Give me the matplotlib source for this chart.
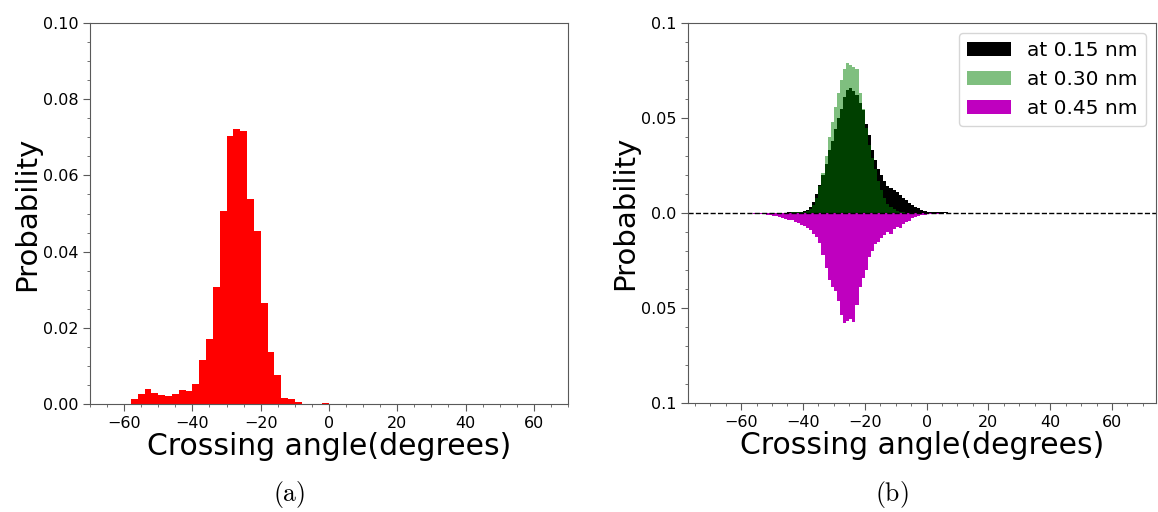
import matplotlib as mpl
import matplotlib.pyplot as plt
import numpy as np
from matplotlib.ticker import MultipleLocator

mpl.rcParams['mathtext.fontset'] = 'cm'

# panel (a): 2-degree bins, left edges
a_edges = np.arange(-60, 0, 2)
a_prob = [0.0, 0.0012, 0.0025, 0.0039, 0.0030, 0.0024, 0.0020, 0.0027,
          0.0037, 0.0034, 0.0052, 0.0115, 0.0170, 0.0308, 0.0507, 0.0704,
          0.0723, 0.0717, 0.0538, 0.0455, 0.0264, 0.0137, 0.0075, 0.0015,
          0.0012, 0.0004, 0.0001, 0.0, 0.0, 0.0003]

# panel (b): 1-degree bins from -60 to 15
b_edges = np.arange(-60, 16, 1)
p015 = [0.0, 0.0, 0.0, 0.0, 0.0, 0.0, 0.0, 0.0, 0.0, 0.0,            # -60..-51
        0.0001, 0.0001, 0.0001, 0.0002, 0.0002, 0.0003, 0.0003, 0.0004,  # -50..-43
        0.0005, 0.0007, 0.0010, 0.0016,                                # -42..-39
        0.003, 0.006, 0.010, 0.015, 0.020, 0.026, 0.033, 0.038,        # -38..-31
        0.044, 0.050, 0.055, 0.061, 0.065, 0.066, 0.064, 0.062,        # -30..-23
        0.058, 0.054, 0.047, 0.041, 0.033, 0.028, 0.023, 0.020,        # -22..-15
        0.017, 0.014, 0.013, 0.012, 0.011, 0.0095, 0.008, 0.0068,      # -14..-7
        0.0055, 0.0042, 0.0032, 0.0024, 0.0016, 0.0011, 0.0008, 0.0007,  # -6..1
        0.0006, 0.0006, 0.0008, 0.0004, 0.0003, 0.0002, 0.0002, 0.0001,  # 2..9
        0.0001, 0.0001, 0.0001, 0.0001, 0.0001]                        # 10..14
p030 = [0.0, 0.0, 0.0, 0.0, 0.0, 0.0, 0.0, 0.0, 0.0, 0.0,            # -60..-51
        0.0001, 0.0001, 0.0001, 0.0001, 0.0002, 0.0002, 0.0003, 0.0003,  # -50..-43
        0.0004, 0.0004, 0.0005, 0.0010,                                # -42..-39
        0.002, 0.004, 0.008, 0.014, 0.021, 0.030, 0.040, 0.048,        # -38..-31
        0.056, 0.063, 0.070, 0.076, 0.079, 0.078, 0.077, 0.076,        # -30..-23
        0.063, 0.055, 0.045, 0.036, 0.029, 0.023, 0.017, 0.012,        # -22..-15
        0.008, 0.005, 0.003, 0.002, 0.001, 0.0006, 0.0003, 0.0001,     # -14..-7
        0.0001, 0.0001, 0.0, 0.0, 0.0, 0.0, 0.0, 0.0,                  # -6..1
        0.0, 0.0, 0.0, 0.0, 0.0, 0.0, 0.0, 0.0,                        # 2..9
        0.0, 0.0, 0.0, 0.0, 0.0]                                       # 10..14
p045 = [0.0001, 0.0001, 0.0002, 0.0002, 0.0003, 0.0004, 0.0005, 0.0006,  # -60..-53
        0.0008, 0.0011, 0.0014, 0.0018, 0.0022, 0.0026, 0.0030, 0.0034,  # -52..-45
        0.0037, 0.0045, 0.0055, 0.0062, 0.0070, 0.0080,                # -44..-39
        0.0090, 0.0110, 0.0125, 0.0160, 0.0220, 0.0290, 0.0350, 0.0390,  # -38..-31
        0.0410, 0.0465, 0.0535, 0.0578, 0.0570, 0.0560, 0.0575, 0.0485,  # -30..-23
        0.0390, 0.0340, 0.0300, 0.0230, 0.0200, 0.0165, 0.0150, 0.0133,  # -22..-15
        0.0115, 0.0098, 0.0110, 0.0085, 0.0075, 0.0078, 0.0060, 0.0048,  # -14..-7
        0.0040, 0.0028, 0.0022, 0.0016, 0.0012, 0.0009, 0.0007, 0.0005,  # -6..1
        0.0004, 0.0003, 0.0002, 0.0002, 0.0001, 0.0001, 0.0001, 0.0,     # 2..9
        0.0, 0.0, 0.0, 0.0, 0.0]                                       # 10..14
b_labels = ['at 0.15 nm', 'at 0.30 nm', 'at 0.45 nm']

spine_c = '0.35'

fig = plt.figure(figsize=(11.58, 5.12), dpi=100)
ax1 = fig.add_axes([0.0777, 0.2109, 0.4128, 0.7441])
ax2 = fig.add_axes([0.5941, 0.2129, 0.4041, 0.7420])

# (a)
a_cent = a_edges + 1
ax1.hist(a_cent, bins=np.append(a_edges, 0), weights=a_prob,
         histtype='stepfilled', color='red', linewidth=0)
ax1.set_xlim(-70, 70)
ax1.set_ylim(0, 0.1)
ax1.xaxis.set_major_locator(MultipleLocator(20))
ax1.xaxis.set_minor_locator(MultipleLocator(5))
ax1.yaxis.set_major_locator(MultipleLocator(0.02))
ax1.yaxis.set_minor_locator(MultipleLocator(0.005))
ax1.yaxis.set_major_formatter('{x:.2f}')
ax1.set_xlabel('Crossing angle(degrees)', fontsize=21.5, labelpad=1)
ax1.set_ylabel('Probability', fontsize=21, labelpad=1)

# (b)
b_cent = b_edges[:-1] + 0.5
ax2.hist(b_cent, bins=b_edges, weights=p015, histtype='stepfilled',
         color='k', linewidth=0, label=b_labels[0])
ax2.hist(b_cent, bins=b_edges, weights=p030, histtype='stepfilled',
         color='g', alpha=0.5, linewidth=0, label=b_labels[1])
ax2.hist(b_cent, bins=b_edges, weights=-np.array(p045), histtype='stepfilled',
         color='m', linewidth=0, label=b_labels[2])
ax2.axhline(0, color='k', ls='--', lw=1)
ax2.set_xlim(-77.2, 74.2)
ax2.set_ylim(-0.1, 0.1)
ax2.xaxis.set_major_locator(MultipleLocator(20))
ax2.xaxis.set_minor_locator(MultipleLocator(5))
ax2.set_yticks([-0.1, -0.05, 0, 0.05, 0.1])
ax2.set_yticklabels(['0.1', '0.05', '0.0', '0.05', '0.1'])
ax2.yaxis.set_minor_locator(MultipleLocator(0.01))
ax2.set_xlabel('Crossing angle(degrees)', fontsize=21.5, labelpad=1)
ax2.set_ylabel('Probability', fontsize=21, labelpad=1)
ax2.legend(loc='upper right', fontsize=14.5, handlelength=2.2,
           borderaxespad=0.5)

for ax in (ax1, ax2):
    for s in ax.spines.values():
        s.set_color(spine_c)
    ax.tick_params(which='major', length=5, labelsize=11.5, color=spine_c)
    ax.tick_params(which='minor', length=2.5, color=spine_c)

fig.text(289 / 1158, 1 - 495 / 512, r'$\mathrm{(a)}$', fontsize=18.5,
         ha='center', va='center')
fig.text(892 / 1158, 1 - 495 / 512, r'$\mathrm{(b)}$', fontsize=18.5,
         ha='center', va='center')

fig.savefig('out.png', dpi=100)
